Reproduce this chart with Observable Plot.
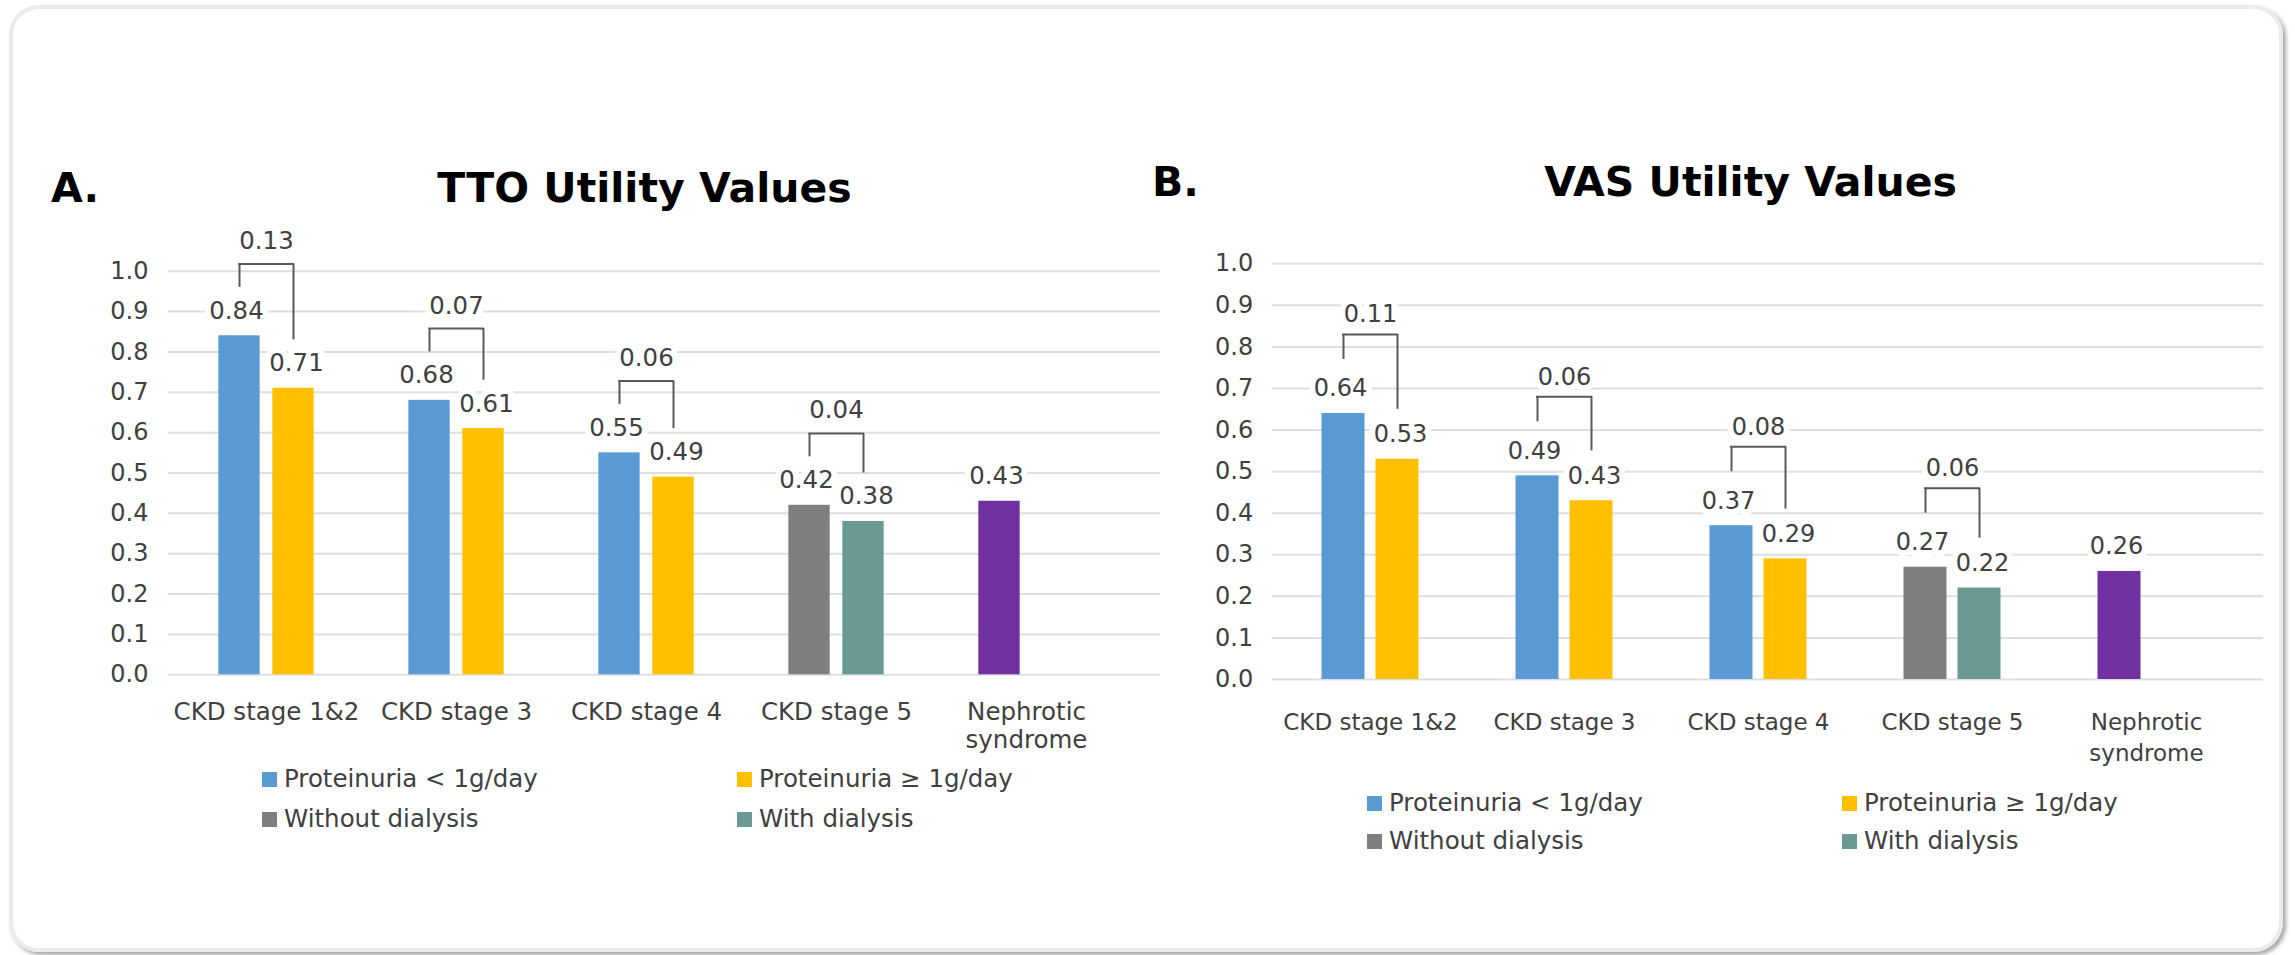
<!DOCTYPE html>
<html>
<head>
<meta charset="utf-8">
<script src="https://cdn.jsdelivr.net/npm/d3@7"></script>
<script src="https://cdn.jsdelivr.net/npm/@observablehq/plot@0.6"></script>
<style>
  html, body { margin: 0; padding: 0; width: 2295px; height: 955px; overflow: hidden; background: #ffffff;
    font-family: "DejaVu Sans", Verdana, sans-serif; color: #404040; }
  #frame { position: absolute; left: 9px; top: 5px; width: 2274px; height: 947px; box-sizing: border-box;
    border: 4px solid #ebebeb; border-radius: 30px; box-shadow: 3px 3px 4px rgba(0,0,0,0.35); }
  .title { position: absolute; white-space: nowrap; line-height: 1; font-weight: bold; color: #000; font-size: 41px; }
  .centered { width: 1000px; text-align: center; }
  .chart { position: absolute; }
  .legend-item { position: absolute; display: flex; align-items: center; font-size: 24.5px; line-height: 1;
    height: 24.5px; white-space: nowrap; color: #404040; }
  .sw { width: 15px; height: 15px; margin-right: 7px; flex: none; }
</style>
</head>
<body>
<div id="frame"></div>
<div id="root"></div>
<script>
// ---------------- data ----------------
const categories = ["CKD stage 1&2", "CKD stage 3", "CKD stage 4", "CKD stage 5", "Nephrotic syndrome"];
const seriesNames = ["Proteinuria < 1g/day", "Proteinuria ≥ 1g/day", "Without dialysis", "With dialysis", "Nephrotic syndrome"];
const seriesColors = ["#5B9BD5", "#FFC000", "#7F7F7F", "#6A9893", "#7030A0"];
const legendSeries = ["Proteinuria < 1g/day", "Proteinuria ≥ 1g/day", "Without dialysis", "With dialysis"];

// TTO (panel A)
const ttoProteinuriaLow = [0.84, 0.68, 0.55];   // CKD 1&2, 3, 4
const ttoProteinuriaHigh = [0.71, 0.61, 0.49];  // CKD 1&2, 3, 4
const ttoWithoutDialysis = [0.42];              // CKD 5
const ttoWithDialysis = [0.38];                 // CKD 5
const ttoNephrotic = [0.43];
const ttoDifferences = ["0.13", "0.07", "0.06", "0.04"];

// VAS (panel B)
const vasProteinuriaLow = [0.64, 0.49, 0.37];
const vasProteinuriaHigh = [0.53, 0.43, 0.29];
const vasWithoutDialysis = [0.27];
const vasWithDialysis = [0.22];
const vasNephrotic = [0.26];
const vasDifferences = ["0.11", "0.06", "0.08", "0.06"];

const yTicks = [0, 0.1, 0.2, 0.3, 0.4, 0.5, 0.6, 0.7, 0.8, 0.9, 1.0];

// ---------------- helpers ----------------
function buildRows(low, high, noDial, withDial, neph) {
  const rows = [];
  low.forEach((v, i) => rows.push({cat: categories[i], series: seriesNames[0], slot: 0, value: v}));
  high.forEach((v, i) => rows.push({cat: categories[i], series: seriesNames[1], slot: 1, value: v}));
  rows.push({cat: categories[3], series: seriesNames[2], slot: 0, value: noDial[0]});
  rows.push({cat: categories[3], series: seriesNames[3], slot: 1, value: withDial[0]});
  rows.push({cat: categories[4], series: seriesNames[4], slot: 0, value: neph[0]});
  return rows;
}

function buildBrackets(rows, diffs, topOff, leftOff, rightOff) {
  return diffs.map((label, i) => {
    const cat = categories[i];
    const l = rows.find(r => r.cat === cat && r.slot === 0).value;
    const r = rows.find(r2 => r2.cat === cat && r2.slot === 1).value;
    return {cat, label, top: Math.max(l, r) + topOff, leftBottom: l + leftOff, rightBottom: r + rightOff};
  });
}

const fmt2 = d3.format(".2f");

function makeChart(cfg) {
  const {rows, brackets, width, height, marginLeft, marginRight, marginTop, marginBottom,
         xRange, barW, gap, tickFont, xFont, xDy, xLineHeight, labelFont, tickPadding, bracketLabelDy} = cfg;
  const bw = (xRange[1] - xRange[0]) / categories.length;
  const off = (barW + gap) / 2;
  const in0L = bw / 2 - off - barW / 2, in0R = bw / 2 + off - barW / 2;
  const in1L = bw / 2 + off - barW / 2, in1R = bw / 2 - off - barW / 2;
  const slot0 = rows.filter(d => d.slot === 0);
  const slot1 = rows.filter(d => d.slot === 1);
  const halo = {stroke: "white", strokeWidth: 12, strokeLinejoin: "round"};
  const lineStyle = {stroke: "#595959", strokeWidth: 2};

  return Plot.plot({
    width, height, marginLeft, marginRight, marginTop, marginBottom,
    style: {fontFamily: "DejaVu Sans, Verdana, sans-serif", fontSize: tickFont + "px", color: "#404040", background: "transparent", overflow: "visible"},
    x: {type: "band", domain: categories, range: xRange, padding: 0, axis: null},
    y: {domain: [0, 1], ticks: yTicks, tickFormat: d3.format(".1f"), tickSize: 0, tickPadding, label: null},
    color: {domain: seriesNames, range: seriesColors},
    marks: [
      Plot.ruleY(yTicks, {stroke: "#dedede", strokeWidth: 2}),
      Plot.barY(slot0, {x: "cat", y: "value", fill: "series", insetLeft: in0L, insetRight: in0R}),
      Plot.barY(slot1, {x: "cat", y: "value", fill: "series", insetLeft: in1L, insetRight: in1R}),
      // bracket lines
      Plot.ruleX(brackets, {x: "cat", y1: "leftBottom", y2: "top", dx: -off, ...lineStyle}),
      Plot.ruleX(brackets, {x: "cat", y1: "rightBottom", y2: "top", dx: off, ...lineStyle}),
      Plot.tickY(brackets, {x: "cat", y: "top", insetLeft: bw / 2 - off - 1, insetRight: bw / 2 - off - 1, ...lineStyle}),
      // value labels
      Plot.text(slot0, {x: "cat", y: "value", text: d => fmt2(d.value), dx: -off - 3, dy: -17, lineAnchor: "bottom",
        fontSize: labelFont, fill: "#404040", ...halo}),
      Plot.text(slot1, {x: "cat", y: "value", text: d => fmt2(d.value), dx: off + 3, dy: -17, lineAnchor: "bottom",
        fontSize: labelFont, fill: "#404040", ...halo}),
      Plot.text(brackets, {x: "cat", y: "top", text: "label", dy: bracketLabelDy, lineAnchor: "bottom",
        fontSize: labelFont, fill: "#404040", ...halo}),
      // category labels
      Plot.text(categories, {x: d => d, frameAnchor: "bottom", text: d => d.replace("Nephrotic ", "Nephrotic\n"),
        dy: xDy, lineAnchor: "top", lineHeight: xLineHeight, fontSize: xFont, fill: "#404040"})
    ]
  });
}

function addDiv(cls, text, styles) {
  const el = document.createElement("div");
  el.className = cls;
  if (text != null) el.textContent = text;
  Object.assign(el.style, styles);
  document.getElementById("root").appendChild(el);
  return el;
}

function addLegend(left1, left2, top1, top2) {
  const pos = [[left1, top1], [left2, top1], [left1, top2], [left2, top2]];
  legendSeries.forEach((name, i) => {
    const item = addDiv("legend-item", null, {left: pos[i][0] + "px", top: pos[i][1] + "px"});
    const sw = document.createElement("span");
    sw.className = "sw";
    sw.style.background = seriesColors[seriesNames.indexOf(name)];
    const tx = document.createElement("span");
    tx.textContent = name;
    item.appendChild(sw);
    item.appendChild(tx);
  });
}

// ---------------- panel A ----------------
const ttoRows = buildRows(ttoProteinuriaLow, ttoProteinuriaHigh, ttoWithoutDialysis, ttoWithDialysis, ttoNephrotic);
const ttoBrackets = buildBrackets(ttoRows, ttoDifferences, 0.178, 0.12, 0.12);
const chartA = makeChart({
  rows: ttoRows, brackets: ttoBrackets,
  width: 1175, height: 560, marginLeft: 168, marginRight: 15, marginTop: 55.7, marginBottom: 100.7,
  xRange: [169.6, 1123], barW: 42, gap: 12, tickFont: 24, xFont: 24.5, xDy: 25.3, xLineHeight: 1.14,
  labelFont: 24.4, tickPadding: 20, bracketLabelDy: -15
});
const wrapA = addDiv("chart", null, {left: "0px", top: "215px"});
wrapA.appendChild(chartA);

addDiv("title", "A.", {left: "51px", top: "168.3px"});
addDiv("title centered", "TTO Utility Values", {left: (644.5 - 500) + "px", top: "168.3px"});
addLegend(262, 737, 767.25, 807.25);

// ---------------- panel B ----------------
const vasRows = buildRows(vasProteinuriaLow, vasProteinuriaHigh, vasWithoutDialysis, vasWithDialysis, vasNephrotic);
const vasBrackets = buildBrackets(vasRows, vasDifferences, 0.19, 0.13, 0.12);
const chartB = makeChart({
  rows: vasRows, brackets: vasBrackets,
  width: 1135, height: 560, marginLeft: 121.7, marginRight: 22, marginTop: 48.3, marginBottom: 96,
  xRange: [123, 1093], barW: 43, gap: 11, tickFont: 24, xFont: 23, xDy: 28, xLineHeight: 1.35,
  labelFont: 24, tickPadding: 19, bracketLabelDy: -12
});
const wrapB = addDiv("chart", null, {left: "1150px", top: "215px"});
wrapB.appendChild(chartB);

addDiv("title", "B.", {left: "1152px", top: "162.3px"});
addDiv("title centered", "VAS Utility Values", {left: (1750.5 - 500) + "px", top: "162.3px"});
addLegend(1367, 1842, 791, 829);
</script>
</body>
</html>
